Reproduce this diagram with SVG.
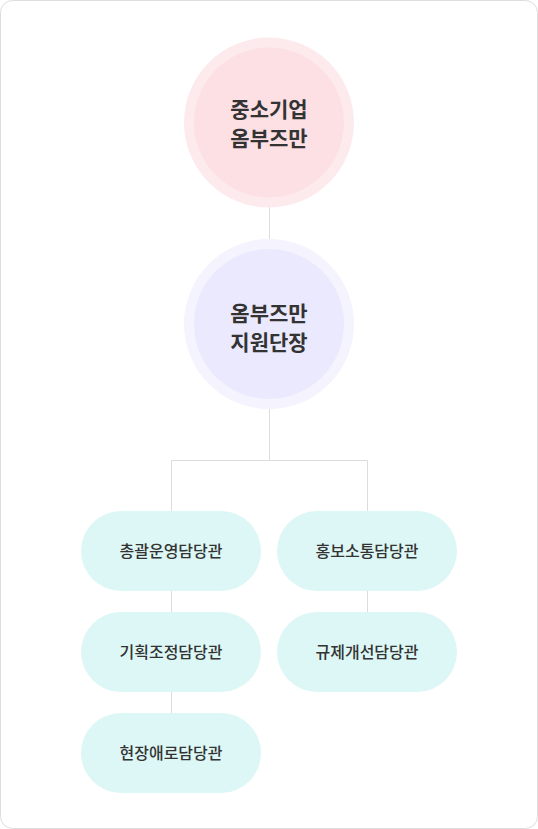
<svg xmlns="http://www.w3.org/2000/svg" width="538" height="829" viewBox="0 0 538 829">
<style>
.frame{fill:#fff;stroke:#dddddd;stroke-width:1}
.conn{fill:none;stroke:#dcdcdc;stroke-width:1}
.ctext{font-family:"Noto Sans CJK KR","Noto Sans",sans-serif;font-size:21px;font-weight:700;fill:#333;text-anchor:middle}
.ptext{font-family:"Noto Sans CJK KR","Noto Sans",sans-serif;font-size:16px;font-weight:500;fill:#333;text-anchor:middle}
.pill{fill:#dcf7f5}
</style>
<rect class="frame" x="0.5" y="0.5" width="537" height="828" rx="12"/>
<g id="connectors">
<line class="conn" x1="269.5" y1="207" x2="269.5" y2="240"/>
<polyline class="conn" points="269.5,408 269.5,460.5 171.5,460.5 171.5,512"/>
<polyline class="conn" points="269.5,460.5 367.5,460.5 367.5,512"/>
<line class="conn" x1="171.5" y1="590" x2="171.5" y2="613"/>
<line class="conn" x1="171.5" y1="691" x2="171.5" y2="714"/>
<line class="conn" x1="367.5" y1="590" x2="367.5" y2="613"/>
</g>
<g id="node-ombudsman">
<circle cx="269" cy="122.5" r="85" fill="#fdeaed"/>
<circle cx="269" cy="122.5" r="75" fill="#fde0e4"/>
<text class="ctext" x="269" y="117">중소기업</text>
<text class="ctext" x="269" y="146">옴부즈만</text>
</g>
<g id="node-director">
<circle cx="269" cy="324" r="85" fill="#f4f3fe"/>
<circle cx="269" cy="324" r="75" fill="#ebe9fd"/>
<text class="ctext" x="269" y="320.5">옴부즈만</text>
<text class="ctext" x="269" y="350">지원단장</text>
</g>
<g id="node-general">
<rect class="pill" x="81" y="511" width="180" height="80" rx="40"/>
<text class="ptext" x="171" y="557">총괄운영담당관</text>
</g>
<g id="node-pr">
<rect class="pill" x="277" y="511" width="180" height="80" rx="40"/>
<text class="ptext" x="367" y="557">홍보소통담당관</text>
</g>
<g id="node-planning">
<rect class="pill" x="81" y="612" width="180" height="80" rx="40"/>
<text class="ptext" x="171" y="658">기획조정담당관</text>
</g>
<g id="node-regulation">
<rect class="pill" x="277" y="612" width="180" height="80" rx="40"/>
<text class="ptext" x="367" y="658">규제개선담당관</text>
</g>
<g id="node-field">
<rect class="pill" x="81" y="713" width="180" height="80" rx="40"/>
<text class="ptext" x="171" y="759">현장애로담당관</text>
</g>
</svg>
